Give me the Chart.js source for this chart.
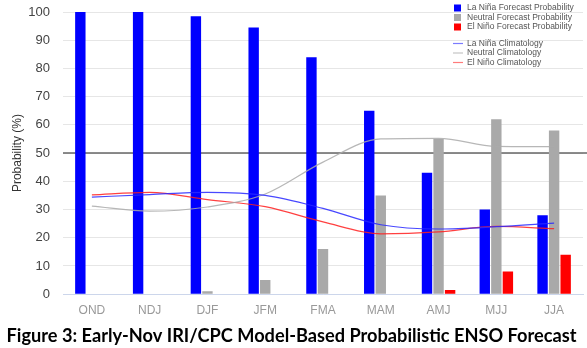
<!DOCTYPE html>
<html>
<head>
<meta charset="utf-8">
<script src="https://cdn.jsdelivr.net/npm/chart.js@4.4.1/dist/chart.umd.min.js"></script>
<style>
html,body{margin:0;padding:0;background:#fff;}
#wrap{width:587px;height:348px;}
</style>
</head>
<body>
<div id="wrap"><canvas id="c" width="587" height="348"></canvas></div>
<script>
const categories = ["OND","NDJ","DJF","JFM","FMA","MAM","AMJ","MJJ","JJA"];
const laNinaForecast  = [100, 100, 98.5, 94.5, 84, 65, 43, 30, 28];
const neutralForecast = [0, 0, 1, 5, 16, 35, 55, 62, 58];
const elNinoForecast  = [0, 0, 0, 0, 0, 0, 1.5, 8, 14];
const laNinaClim  = [34.4, 35.3, 36.1, 35.0, 30.4, 24.6, 23.1, 23.9, 25.2];
const neutralClim = [31.2, 29.4, 30.9, 35.5, 46.8, 55.0, 55.2, 52.4, 52.3];
const elNinoClim  = [35.2, 36.1, 33.5, 31.0, 25.6, 21.4, 22.1, 24.0, 23.2];
const yTicks = [0,10,20,30,40,50,60,70,80,90,100];
const titleText = "Figure 3: Early-Nov IRI/CPC Model-Based Probabilistic ENSO Forecast";
const yTitle = "Probability (%)";
const refLineValue = 50;

const refLine = {
  id: 'refLine',
  beforeDatasetsDraw(chart) {
    const {ctx, chartArea, scales} = chart;
    const y = scales.y.getPixelForValue(refLineValue);
    ctx.save();
    ctx.strokeStyle = '#666';
    ctx.lineWidth = 1.5;
    ctx.beginPath();
    ctx.moveTo(chartArea.left, y);
    ctx.lineTo(chartArea.right + 4, y);
    ctx.stroke();
    ctx.restore();
  }
};

const customLegend = {
  id: 'customLegend',
  afterDraw(chart) {
    const ctx = chart.ctx;
    const ds = chart.data.datasets;
    ctx.save();
    ctx.font = '8.5px "Liberation Sans", Arial, sans-serif';
    ctx.textBaseline = 'middle';
    ctx.textAlign = 'left';
    const xMark = 454, xText = 467;
    const rowsBar = [8, 17.5, 27];
    const rowsLine = [43.5, 53, 62.5];
    let bi = 0, li = 0;
    ds.forEach(d => {
      if (d.type === 'line') {
        const y = rowsLine[li++];
        ctx.strokeStyle = d.legendColor;
        ctx.lineWidth = 1.2;
        ctx.beginPath();
        ctx.moveTo(xMark - 1, y);
        ctx.lineTo(xMark + 9, y);
        ctx.stroke();
        ctx.fillStyle = '#555';
        ctx.fillText(d.label, xText, y);
      } else {
        const y = rowsBar[bi++];
        ctx.fillStyle = d.backgroundColor;
        ctx.fillRect(xMark, y - 3.5, 7, 7);
        ctx.fillStyle = '#555';
        ctx.fillText(d.label, xText, y);
      }
    });
    ctx.restore();
  }
};

new Chart(document.getElementById('c'), {
  data: {
    labels: categories,
    datasets: [
      {type:'bar', label:'La Niña Forecast Probability', data: laNinaForecast, backgroundColor:'#0000ff', order: 2},
      {type:'bar', label:'Neutral Forecast Probability', data: neutralForecast, backgroundColor:'#a9a9a9', order: 2},
      {type:'bar', label:'El Niño Forecast Probability', data: elNinoForecast, backgroundColor:'#ff0000', order: 2},
      {type:'line', label:'La Niña Climatology', data: laNinaClim, borderColor:'rgba(40,40,255,0.85)', legendColor:'rgba(90,90,255,0.8)', borderWidth:1.2, pointRadius:0, cubicInterpolationMode:'monotone', order: 1},
      {type:'line', label:'Neutral Climatology', data: neutralClim, borderColor:'rgba(170,170,170,0.85)', legendColor:'rgba(190,190,190,0.9)', borderWidth:1.2, pointRadius:0, cubicInterpolationMode:'monotone', order: 1},
      {type:'line', label:'El Niño Climatology', data: elNinoClim, borderColor:'rgba(255,30,30,0.85)', legendColor:'rgba(255,90,90,0.8)', borderWidth:1.2, pointRadius:0, cubicInterpolationMode:'monotone', order: 1}
    ]
  },
  options: {
    responsive: false,
    animation: false,
    layout: {padding: {top: 12, right: 4, left: 0, bottom: 1}},
    datasets: {bar: {categoryPercentage: 0.6, barPercentage: 0.9}},
    plugins: {
      legend: {display: false},
      tooltip: {enabled: false},
      title: {
        display: true, position: 'bottom', text: titleText, color: '#000',
        font: {family: 'Lato, "Liberation Sans", sans-serif', weight: 'bold', size: 18.2, lineHeight: 1.2},
        padding: {top: 5, bottom: 0}
      }
    },
    scales: {
      x: {
        grid: {display: false, drawTicks: false},
        border: {display: true, color: '#ccd6eb', width: 1},
        ticks: {color: '#999', font: {family: '"Liberation Sans", Arial, sans-serif', size: 12}, padding: 9},
        afterFit(scale) { scale.height = 26; scale.paddingLeft = 0; scale.paddingRight = 0; }
      },
      y: {
        min: 0, max: 100,
        afterBuildTicks(scale) { scale.ticks = yTicks.map(v => ({value: v})); },
        afterFit(scale) { scale.width = 63; scale.paddingTop = 0; scale.paddingBottom = 0; },
        grid: {color: '#e6e6e6', drawTicks: false},
        border: {display: false},
        ticks: {color: '#444', font: {family: '"Liberation Sans", Arial, sans-serif', size: 13}, padding: 13},
        title: {display: true, text: yTitle, color: '#333', font: {family: '"Liberation Sans", Arial, sans-serif', size: 12}, padding: {top: 10, bottom: 0}}
      }
    }
  },
  plugins: [refLine, customLegend]
});
</script>
</body>
</html>
